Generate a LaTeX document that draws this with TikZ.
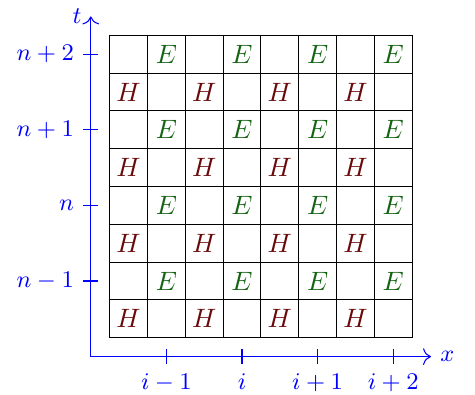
\documentclass[tikz,border=0pt]{standalone}
\usetikzlibrary{arrows.meta}
\definecolor{ecol}{RGB}{20,100,20}
\definecolor{hcol}{RGB}{105,10,10}
\begin{document}
\begin{tikzpicture}[x=0.5cm,y=0.5cm,
  axis/.style={blue,-{To[length=3pt]}},
  tickmark/.style={blue},
  ticklabel/.style={blue,font=\small},
  efield/.style={text=ecol},
  hfield/.style={text=hcol}]
\useasboundingbox (-2.902,-1.489) rectangle (9.664,8.934);
\draw[black,thin,step=0.5cm] (0,0) grid (8,8);
\foreach \r in {0,2,4,6}{
  \foreach \c in {0,2,4,6}{
    \node[hfield] (h\c\r) at (\c+0.5,\r+0.5) {$H$};
    \node[efield] (e\c\r) at (\c+1.5,\r+1.5) {$E$};
  }
}
\coordinate (o) at (-0.5,-0.5);
\coordinate (xe) at (8.5,-0.5);
\coordinate (ye) at (-0.5,8.5);
\draw[axis] (o) -- (xe) node[right,ticklabel] (xl) {$x$};
\draw[axis] (o) -- (ye) node[left,ticklabel] (tl) {$t$};
\foreach \x/\l [count=\k] in {1.5/i-1,3.5/i,5.5/i+1,7.5/i+2}{
  \draw[tickmark] (\x,-0.3) -- (\x,-0.7) node[below,ticklabel] (xt\k) {$\l$};
}
\foreach \y/\l [count=\k] in {1.5/n-1,3.5/n,5.5/n+1,7.5/n+2}{
  \draw[tickmark] (-0.3,\y) -- (-0.7,\y) node[left,ticklabel] (yt\k) {$\l$};
}
\end{tikzpicture}
\end{document}
